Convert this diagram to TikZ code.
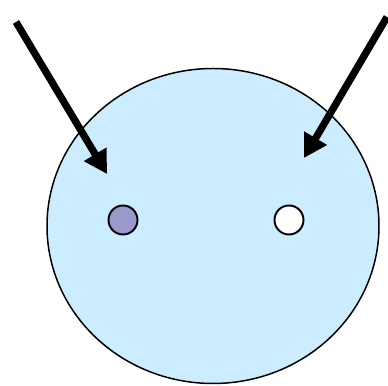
\documentclass[tikz,border=0pt]{standalone}
\usepackage{tikz}
\usetikzlibrary{arrows.meta,shapes.geometric}
\definecolor{CellPaleBlue}{RGB}{204,236,255}
\definecolor{CellLilac}{RGB}{153,153,204}

\begin{document}
\begin{tikzpicture}[
    cell/.style={draw=black,ellipse,line width=0.85pt,fill=CellPaleBlue,inner sep=0pt,minimum width=6.64cm,minimum height=6.3cm},
    dot/.style={draw=black,circle,line width=1.1pt,inner sep=0pt,minimum size=0.58cm},
    pointer/.style={-{Triangle[length=0.46cm,width=0.5cm]},line width=0.145cm,draw=black}
  ]
    \useasboundingbox (0,0) rectangle (7.76,-7.72);
    \node[cell] (cell) at (4.26,-4.52) {};
    \node[dot,fill=CellLilac] (filled) at (2.46,-4.40) {};
    \node[dot,fill=white] (empty) at (5.78,-4.40) {};
    \coordinate (leftstart) at (0.32,-0.44);
    \coordinate (lefttip) at (2.14,-3.48);
    \coordinate (rightstart) at (7.74,-0.34);
    \coordinate (righttip) at (6.08,-3.16);
    \draw[pointer] (leftstart) -- (lefttip);
    \draw[pointer] (rightstart) -- (righttip);
  \end{tikzpicture}
\end{document}
